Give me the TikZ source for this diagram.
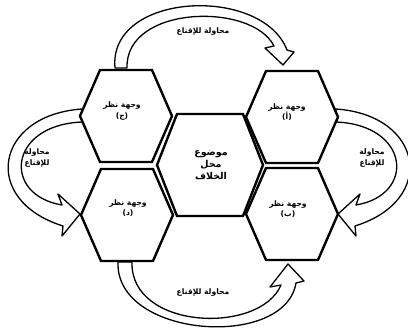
\documentclass[tikz,border=0pt]{standalone}
\usepackage{fontspec}
\TeXXeTstate=1
\newfontfamily\arabicfont[Script=Arabic]{DejaVu Sans}
\newcommand\HexShape[6]{%
  \draw[hexline] ({#1-#3},#2) -- ({#1-#4},{#2-#5}) -- ({#1+#4},{#2-#5}) -- ({#1+#3},#2) -- ({#1+#4},{#2+#5}) -- ({#1-#4},{#2+#5}) -- cycle;
  \coordinate (#6) at (#1,#2);}
\newcommand\AR[1]{\beginR #1\endR}
\begin{document}
\begin{tikzpicture}[x=1pt,y=-1pt,
  hexline/.style={line width=2.4pt,fill=white,line join=miter},
  blockarrow/.style={line width=1.3pt,fill=white,line join=round},
  hextext/.style={font=\arabicfont\bfseries\fontsize{7.6}{10.5}\selectfont,align=center,inner sep=0pt},
  midtext/.style={font=\arabicfont\bfseries\fontsize{9.5}{12}\selectfont,align=center,inner sep=0pt},
  arrowtext/.style={font=\arabicfont\bfseries\fontsize{7.6}{10.5}\selectfont,align=center,inner sep=0pt}]
\useasboundingbox (0,0) rectangle (408,330);
% block arrows
\draw[blockarrow] (115,68) .. controls (108,-8) and (262,-15) .. (287,50) -- (294,52) -- (283,65) -- (265,48) -- (274,46) .. controls (252,2) and (125,5) .. (127,68) -- cycle;
\draw[blockarrow] (118,262) .. controls (115,338) and (285,350) .. (296,283) -- (304,281) -- (288,264) -- (270,287) -- (281,285) .. controls (260,335) and (130,330) .. (132,262) -- cycle;
\draw[blockarrow] (82,109) .. controls (-5,115) and (-20,200) .. (63,226) -- (62,236) -- (80,214) -- (58,194) -- (62,205) .. controls (2,195) and (8,125) .. (82,122) -- cycle;
\draw[blockarrow] (336,109) .. controls (423,115) and (438,200) .. (355,226) -- (356,236) -- (338,214) -- (360,194) -- (356,205) .. controls (416,195) and (410,125) .. (336,122) -- cycle;
% hexagons
\HexShape{126}{116}{46}{26}{46}{hj}
\HexShape{292}{117}{46}{26}{46}{ha}
\HexShape{127}{215}{46}{26}{46}{hd}
\HexShape{292}{214}{46}{26}{46}{hb}
\HexShape{210}{165}{53}{33}{51}{hc}
% texts
\node[hextext] (tj) at (122,111) {\AR{وجهة نظر}\\\AR{(ج)}};
\node[hextext] (ta) at (287,112) {\AR{وجهة نظر}\\\AR{(أ)}};
\node[hextext] (td) at (128,208) {\AR{وجهة نظر}\\\AR{(د)}};
\node[hextext] (tb) at (288,209) {\AR{وجهة نظر}\\\AR{(ب)}};
\node[midtext] (tc) at (211,165) {\AR{موضوع}\\\AR{محل}\\\AR{الخلاف}};
\node[arrowtext] (ltop) at (203,32) {\AR{محاولة للإقناع}};
\node[arrowtext] (lbot) at (203,293) {\AR{محاولة للإقناع}};
\node[arrowtext] (lleft) at (37,158) {\AR{محاولة}\\\AR{للإقناع}};
\node[arrowtext] (lright) at (372,158) {\AR{محاولة}\\\AR{للإقناع}};
\end{tikzpicture}
\end{document}
